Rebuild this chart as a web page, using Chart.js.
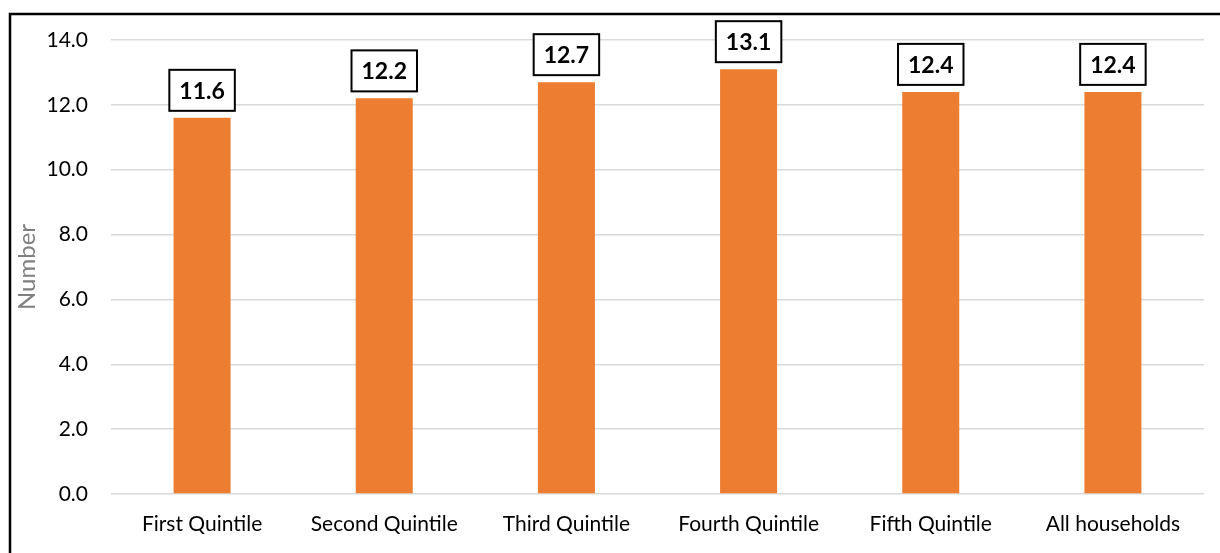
<!DOCTYPE html>
<html>
<head>
<meta charset="utf-8">
<script src="https://cdn.jsdelivr.net/npm/chart.js@4"></script>
<style>
  html, body { margin: 0; padding: 0; background: #ffffff; }
  #wrap { position: relative; width: 1220px; height: 553px; }
</style>
</head>
<body>
<div id="wrap"><canvas id="chart" width="1220" height="553"></canvas></div>
<script>
// Average number per household, by income quintile
const categories = ['First Quintile', 'Second Quintile', 'Third Quintile', 'Fourth Quintile', 'Fifth Quintile', 'All households'];
const values = [11.6, 12.2, 12.7, 13.1, 12.4, 12.4];
const yTicks = [0, 2, 4, 6, 8, 10, 12, 14];

const FONT = "Lato, 'Open Sans', 'Liberation Sans', sans-serif";

// Outer frame around the figure
const framePlugin = {
  id: 'frame',
  afterDraw(chart) {
    const ctx = chart.ctx;
    ctx.save();
    ctx.strokeStyle = '#000000';
    ctx.lineWidth = 2.5;
    ctx.strokeRect(10, 14, 1300, 700);
    ctx.restore();
  }
};

// Boxed value labels above each bar
const boxLabels = {
  id: 'boxLabels',
  afterDatasetsDraw(chart) {
    const ctx = chart.ctx;
    const meta = chart.getDatasetMeta(0);
    const data = chart.data.datasets[0].data;
    ctx.save();
    ctx.font = 'bold 23px ' + FONT;
    ctx.textAlign = 'center';
    ctx.textBaseline = 'middle';
    meta.data.forEach((bar, i) => {
      const txt = data[i].toFixed(1);
      const tw = ctx.measureText(txt).width;
      const w = tw + 20;
      const h = 41;
      const bottom = bar.y - 7;
      const top = bottom - h;
      const left = bar.x - w / 2;
      ctx.fillStyle = '#ffffff';
      ctx.fillRect(left, top, w, h);
      ctx.lineWidth = 2;
      ctx.strokeStyle = '#000000';
      ctx.strokeRect(left, top, w, h);
      ctx.fillStyle = '#000000';
      ctx.fillText(txt, bar.x, top + h / 2 + 1);
    });
    ctx.restore();
  }
};

new Chart(document.getElementById('chart'), {
  type: 'bar',
  data: {
    labels: categories,
    datasets: [{
      data: values,
      backgroundColor: '#ED7D31',
      borderWidth: 0,
      barPercentage: 0.313,
      categoryPercentage: 1.0
    }]
  },
  options: {
    responsive: false,
    animation: false,
    layout: { padding: { top: 40, right: 16, bottom: 0, left: 0 } },
    plugins: {
      legend: { display: false },
      tooltip: { enabled: false }
    },
    scales: {
      x: {
        grid: { display: false, drawTicks: false },
        border: { display: false },
        ticks: {
          color: '#000000',
          padding: 18,
          font: { family: FONT, size: 21 },
          maxRotation: 0
        },
        afterFit(scale) { scale.height = 59; }
      },
      y: {
        min: 0,
        max: 14,
        afterBuildTicks(scale) { scale.ticks = yTicks.map(v => ({ value: v })); },
        grid: { color: '#d9d9d9', lineWidth: 1.5, drawTicks: false },
        border: { display: false },
        ticks: {
          color: '#000000',
          padding: 23,
          font: { family: FONT, size: 21 },
          callback: v => Number(v).toFixed(1)
        },
        title: {
          display: true,
          text: 'Number',
          color: '#7f7f7f',
          font: { family: FONT, size: 24 },
          padding: { top: 13, bottom: 0 }
        },
        afterFit(scale) { scale.width = 111; }
      }
    }
  },
  plugins: [boxLabels, framePlugin]
});
</script>
</body>
</html>
